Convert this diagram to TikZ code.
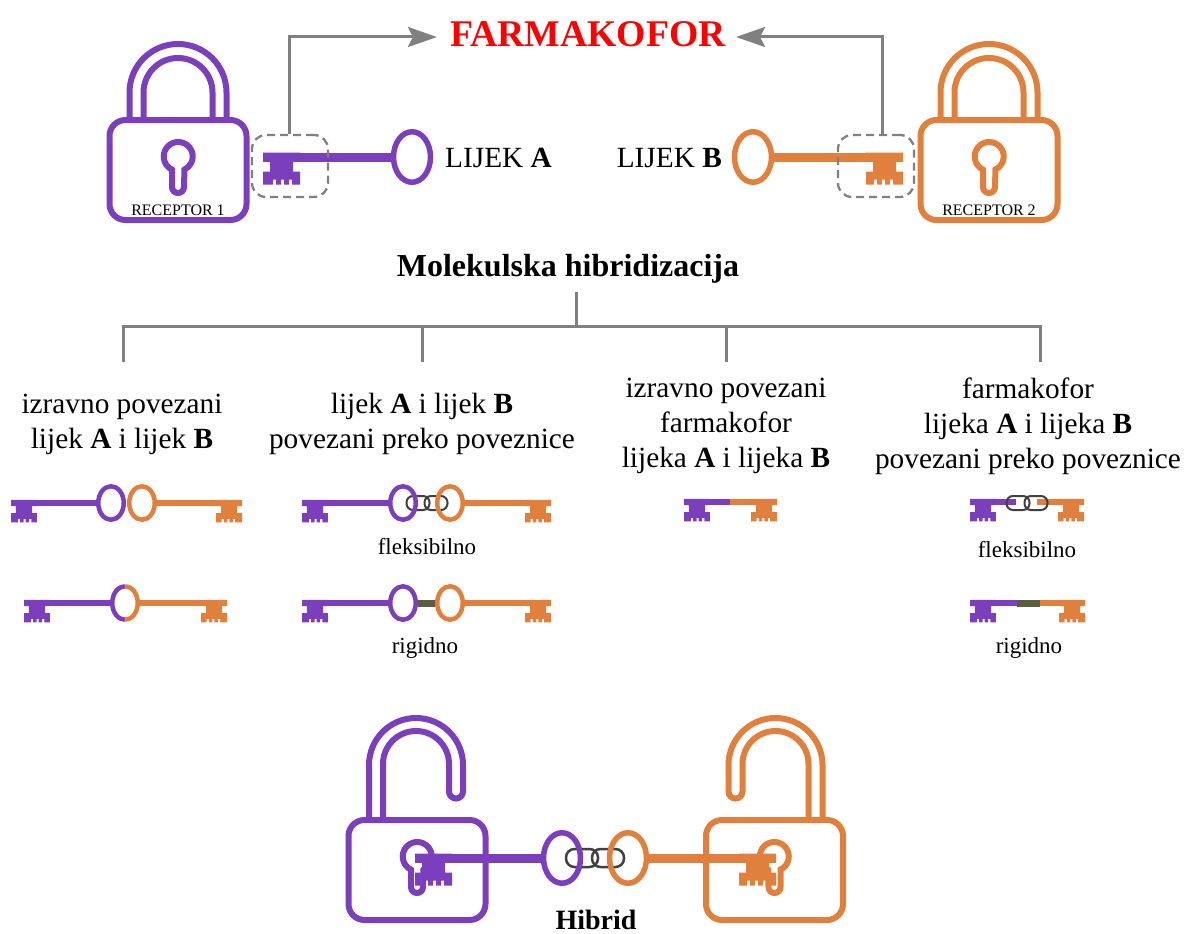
\documentclass[tikz,border=0pt]{standalone}
\usepackage{fontspec}
\setmainfont{Liberation Serif}
\usetikzlibrary{shapes.geometric,arrows.meta}
\definecolor{keyv}{HTML}{7B3FBE}
\definecolor{keyo}{HTML}{E17F3C}
\definecolor{linegray}{HTML}{808080}
\definecolor{rigid}{HTML}{5C5C3E}
\newcommand{\lockbase}{
    \draw[pic actions,rounded corners=16] (-68.5,-37) rectangle (68.5,63);
    \draw[pic actions] (-6,12.6) arc (115.4:424.6:14.5) -- (6,30) arc (0:180:6) -- cycle;
}
\tikzset{
  pics/keybit/.style={code={
    \fill[pic actions,shift={(0,-4.5)}] (0,0)--(37,0)--(37,9)--(30,9)--(30,19)--(37,19)--(37,32)--(29,32)--(29,27)--(26,27)--(26,32)--(21,32)--(21,27)--(18,27)--(18,32)--(13,32)--(13,27)--(10,27)--(10,32)--(0,32)--(0,19)--(7,19)--(7,9)--(0,9)--cycle;
  }},
  pics/lockshut/.style={code={
    \lockbase
    \draw[pic actions] (-48.5,-37) -- (-48.5,-64.5) arc (180:360:48.5) -- (48.5,-37);
    \draw[pic actions] (-34.5,-37) -- (-34.5,-64.5) arc (180:360:34.5) -- (34.5,-37);
  }},
  pics/lockopen/.style={code={
    \lockbase
    \draw[pic actions] (-48,-37) -- (-48,-92) arc (180:360:47) -- (46,-65.5) arc (0:180:7) -- (32,-93) arc (360:180:33) -- (-34,-93) -- (-34,-37);
  }}
}
\begin{document}
\begin{tikzpicture}[x=1pt,y=-1pt]
  \tikzstyle{ringA}=[ellipse,draw=keyv,line width=5.5,inner sep=0,minimum width=37,minimum height=50.5]
  \tikzstyle{ringB}=[ringA,draw=keyo]
  \tikzstyle{sringA}=[ringA,line width=4.5,minimum width=25.5,minimum height=33.5]
  \tikzstyle{sringB}=[sringA,draw=keyo]
  \tikzstyle{shaftA}=[draw=keyv,line width=9,shorten >=-1]
  \tikzstyle{shaftB}=[shaftA,draw=keyo]
  \tikzstyle{sshaftA}=[shaftA,line width=6.3]
  \tikzstyle{sshaftB}=[sshaftA,draw=keyo]
  \tikzstyle{bitA}=[fill=keyv]
  \tikzstyle{bitB}=[fill=keyo,xscale=-1]
  \tikzstyle{sbitA}=[bitA,scale=.7]
  \tikzstyle{sbitB}=[bitB,scale=.7]
  \tikzstyle{lockA}=[draw=keyv,line width=6]
  \tikzstyle{lockB}=[draw=keyo,line width=6]
  \tikzstyle{linkbox}=[draw=black!75,line width=2,rounded corners=6.5,minimum width=23,minimum height=14,inner sep=0]
  \tikzstyle{biglink}=[linkbox,line width=2.5,rounded corners=8.5,minimum width=32,minimum height=18]
  \tikzstyle{rigidbar}=[draw=rigid,line width=7]
  \tikzstyle{dashbox}=[draw=linegray,dash pattern=on 8 off 5,line width=2.3,rounded corners=14,minimum width=76,minimum height=62,inner sep=0]
  \tikzstyle{arrow}=[linegray,line width=3,-{Stealth[length=29,width=20,inset=5]}]
  \tikzstyle{tree}=[linegray,line width=3]
  \tikzstyle{small}=[font=\fontsize{16}{18}\selectfont,inner sep=0]
  \tikzstyle{lab}=[font=\fontsize{29.3}{35}\selectfont,align=center,inner sep=0]
  \tikzstyle{sublab}=[font=\fontsize{23}{26}\selectfont,inner sep=0]
  \useasboundingbox (0,0) rectangle (1184,934);

  % top row
  \node[font=\bfseries\fontsize{37.7}{40}\selectfont,text=red,inner sep=0] (farmakofor) at (588,34) {FARMAKOFOR};
  \pic[lockA] at (178,157) {lockshut};
  \pic[lockB] at (989,157) {lockshut};
  \node[small] (rec1) at (178,210) {RECEPTOR 1};
  \node[small] (rec2) at (989,210) {RECEPTOR 2};
  \coordinate (tipA) at (263,157);
  \coordinate (tipB) at (903,157);
  \node[ringA] (ringa) at (412,157) {};
  \node[ringB] (ringb) at (753,157) {};
  \pic[bitA] at (tipA) {keybit};
  \pic[bitB] at (tipB) {keybit};
  \draw[shaftA] (tipA)--(ringa);
  \draw[shaftB] (tipB)--(ringb);
  \node[lab,anchor=west] (lijeka) at (445,158) {LIJEK \textbf{A}};
  \node[lab,anchor=east] (lijekb) at (722,158) {LIJEK \textbf{B}};
  \node[dashbox] (boxa) at (290,166) {};
  \node[dashbox] (boxb) at (876,166) {};
  \draw[arrow,shorten >=13] (boxa.north) ++(-1,0) |- ([yshift=-3]farmakofor.west);
  \draw[arrow,shorten >=10] (boxb.north) ++(6,0) |- ([yshift=-3]farmakofor.east);

  % tree
  \node[font=\bfseries\fontsize{32}{36}\selectfont,inner sep=0] (molek) at (568,269) {Molekulska hibridizacija};
  \coordinate (top) at (576,292);
  \coordinate (hub) at (576,326);
  \coordinate (t1) at (123,326);
  \coordinate (t2) at (422,326);
  \coordinate (t3) at (726,326);
  \coordinate (t4) at (1040,326);
  \coordinate (e1) at (123,362);
  \coordinate (e2) at (422,362);
  \coordinate (e3) at (726,362);
  \coordinate (e4) at (1040,362);
  \draw[tree] (top)--(hub);
  \draw[tree] (e1)--(t1)--(t4)--(e4);
  \draw[tree] (t2)--(e2);
  \draw[tree] (t3)--(e3);
  \node[lab] (col1) at (122,424) {izravno povezani\\lijek \textbf{A} i lijek \textbf{B}};
  \node[lab] (col2) at (422,424) {lijek \textbf{A} i lijek \textbf{B}\\povezani preko poveznice};
  \node[lab] (col3) at (726,426) {izravno povezani\\farmakofor\\lijeka \textbf{A} i lijeka \textbf{B}};
  \node[lab] (col4) at (1028,426) {farmakofor\\lijeka \textbf{A} i lijeka \textbf{B}\\povezani preko poveznice};

  % column 1
  \coordinate (a1) at (11,503);
  \coordinate (b1) at (242,503);
  \node[sringA] (ra1) at (111,503) {};
  \node[sringB] (rb1) at (142,503) {};
  \pic[sbitA] at (a1) {keybit};
  \pic[sbitB] at (b1) {keybit};
  \draw[sshaftA] (a1)--(ra1);
  \draw[sshaftB] (b1)--(rb1);
  \coordinate (a2) at (24,603);
  \coordinate (b2) at (227,603);
  \node[ellipse,minimum width=25.5,minimum height=33.5,inner sep=0,outer sep=0] (r2) at (125,603) {};
  \pic[sbitA] at (a2) {keybit};
  \pic[sbitB] at (b2) {keybit};
  \draw[sshaftA] (a2)--(r2);
  \draw[sshaftB] (b2)--(r2);
  \draw[keyv,line width=4.5] (r2.north) arc (270:90:12.75 and 16.75);
  \draw[keyo,line width=4.5] (r2.north) arc (270:450:12.75 and 16.75);

  % column 2
  \node[linkbox] (l1) at (418,503) {};
  \node[linkbox] (l2) at (436,503) {};
  \coordinate (a3) at (302,503);
  \coordinate (b3) at (551,503);
  \node[sringA] (ra3) at (403,503) {};
  \node[sringB] (rb3) at (450,503) {};
  \pic[sbitA] at (a3) {keybit};
  \pic[sbitB] at (b3) {keybit};
  \draw[sshaftA] (a3)--(ra3);
  \draw[sshaftB] (b3)--(rb3);
  \node[sublab] (fleks1) at (427,547) {fleksibilno};
  \coordinate (a4) at (302,603);
  \coordinate (b4) at (551,603);
  \node[sringA] (ra4) at (403,603) {};
  \node[sringB] (rb4) at (450,603) {};
  \pic[sbitA] at (a4) {keybit};
  \pic[sbitB] at (b4) {keybit};
  \draw[sshaftA] (a4)--(ra4);
  \draw[sshaftB] (b4)--(rb4);
  \draw[rigidbar] (ra4)--(rb4);
  \node[sublab] (rig1) at (425,648) {rigidno};

  % column 3
  \coordinate (a5) at (684,502);
  \coordinate (b5) at (777,502);
  \coordinate (m5) at (730,502);
  \pic[sbitA] at (a5) {keybit};
  \pic[sbitB] at (b5) {keybit};
  \draw[sshaftA,shorten >=0] (a5)--(m5);
  \draw[sshaftB,shorten >=0] (b5)--(m5);

  % column 4
  \coordinate (a6) at (970,502);
  \coordinate (b6) at (1084,502);
  \coordinate (ma6) at (1016,502);
  \coordinate (mb6) at (1037,502);
  \pic[sbitA] at (a6) {keybit};
  \pic[sbitB] at (b6) {keybit};
  \draw[sshaftA,shorten >=0] (a6)--(ma6);
  \draw[sshaftB,shorten >=0] (b6)--(mb6);
  \node[linkbox] (l3) at (1018,503) {};
  \node[linkbox] (l4) at (1036,503) {};
  \node[sublab] (fleks2) at (1027,550) {fleksibilno};
  \coordinate (a7) at (970,603);
  \coordinate (b7) at (1085,603);
  \coordinate (ma7) at (1017,603);
  \coordinate (mb7) at (1040,603);
  \pic[sbitA] at (a7) {keybit};
  \pic[sbitB] at (b7) {keybit};
  \draw[sshaftA,shorten >=0] (a7)--(ma7);
  \draw[sshaftB,shorten >=0] (b7)--(mb7);
  \draw[rigidbar] (ma7)--(mb7);
  \node[sublab] (rig2) at (1029,648) {rigidno};

  % hybrid
  \pic[lockA] at (417,857) {lockopen};
  \pic[lockB,xscale=-1] at (774.5,857) {lockopen};
  \node[biglink] (l5) at (582,858) {};
  \node[biglink] (l6) at (608,858) {};
  \coordinate (a8) at (415,858);
  \coordinate (b8) at (776,858);
  \node[ringA] (ra8) at (562,858) {};
  \node[ringB] (rb8) at (628,858) {};
  \pic[bitA] at (a8) {keybit};
  \pic[bitB] at (b8) {keybit};
  \draw[shaftA] (a8)--(ra8);
  \draw[shaftB] (b8)--(rb8);
  \node[font=\bfseries\fontsize{28}{30}\selectfont,inner sep=0] (hib) at (596,920) {Hibrid};
\end{tikzpicture}
\end{document}
